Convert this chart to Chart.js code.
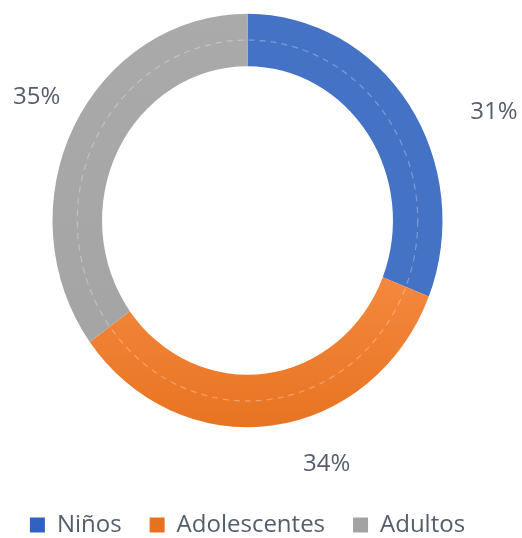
<!DOCTYPE html>
<html>
<head>
<meta charset="utf-8">
<script src="https://cdn.jsdelivr.net/npm/chart.js@4"></script>
<style>
  html, body { margin: 0; padding: 0; background: #ffffff; }
  #wrap { width: 522px; height: 538px; position: relative; }
</style>
</head>
<body>
<div id="wrap"><canvas id="c" width="522" height="538"></canvas></div>
<script>
// ---- data ----
const categories = ['Niños', 'Adolescentes', 'Adultos'];
const values = [31, 34, 35];

// ---- styles ----
const gradStops = [
  [[0.0, '#5b87d6'], [0.72, '#2f63bf']],
  [[0.62, '#f5893f'], [1.0, '#e6721f']],
  [[0.0, '#aaaaaa'], [1.0, '#a3a3a3']]
];
const solidColors = ['#4472C4', '#ED7D31', '#A5A5A5'];
const textColor = '#535d6c';
const yStretch = 1.06;
// label placement relative to slice middle: extra angle (deg), radius factor
const labelAngleShift = [11.6, -11.8, 1.9];
const labelRadiusFactor = [1.369, 1.248, 1.235];

function fillFor(context) {
  const chart = context.chart;
  const i = context.dataIndex !== undefined ? context.dataIndex : context.index;
  const area = chart.chartArea;
  const meta = chart.getDatasetMeta(0);
  if (!area || !meta || !meta.data[0] || !meta.data[0].outerRadius) return solidColors[i];
  const el = meta.data[0];
  const top = el.y - el.outerRadius * yStretch;
  const bot = el.y + el.outerRadius * yStretch;
  const g = chart.ctx.createLinearGradient(0, top, 0, bot);
  gradStops[i].forEach(s => g.addColorStop(s[0], s[1]));
  return g;
}

const ellipsePlugin = {
  id: 'ellipse',
  beforeDatasetsDraw(chart) {
    const el = chart.getDatasetMeta(0).data[0];
    const ctx = chart.ctx;
    ctx.save();
    ctx.translate(el.x, el.y);
    ctx.scale(1, yStretch);
    ctx.translate(-el.x, -el.y);
  },
  afterDatasetsDraw(chart) {
    const ctx = chart.ctx;
    const el = chart.getDatasetMeta(0).data[0];
    // faint dashed guide in middle of ring
    const r = (el.innerRadius + el.outerRadius) / 2;
    ctx.beginPath();
    ctx.arc(el.x, el.y, r, 0, Math.PI * 2);
    ctx.setLineDash([6, 5]);
    ctx.lineWidth = 1.2;
    ctx.strokeStyle = 'rgba(255,255,255,0.3)';
    ctx.stroke();
    ctx.setLineDash([]);
    ctx.restore();

    // percentage labels
    const data = chart.data.datasets[0].data;
    const total = data.reduce((a, b) => a + b, 0);
    ctx.save();
    ctx.font = '24px "Open Sans"';
    ctx.fillStyle = textColor;
    ctx.textAlign = 'center';
    ctx.textBaseline = 'middle';
    chart.getDatasetMeta(0).data.forEach((arc, i) => {
      const mid = (arc.startAngle + arc.endAngle) / 2 + labelAngleShift[i] * Math.PI / 180;
      const rr = arc.outerRadius * labelRadiusFactor[i];
      const px = arc.x + rr * Math.cos(mid);
      const py = arc.y + rr * Math.sin(mid) * yStretch;
      ctx.fillText(Math.round(data[i] / total * 100) + '%', px, py);
    });
    ctx.restore();
  }
};

new Chart(document.getElementById('c'), {
  type: 'doughnut',
  data: {
    labels: categories,
    datasets: [{
      data: values,
      backgroundColor: fillFor,
      borderWidth: 0,
      radius: 195,
      cutout: '74.6%'
    }]
  },
  options: {
    responsive: false,
    animation: false,
    devicePixelRatio: 1,
    layout: { padding: { top: 0, bottom: -9, left: 0, right: 27 } },
    plugins: {
      tooltip: { enabled: false },
      legend: {
        position: 'bottom',
        title: {
          display: true,
          text: '',
          font: { size: 12, lineHeight: 1 },
          padding: { top: 32, bottom: 0 }
        },
        labels: {
          boxWidth: 15,
          boxHeight: 15,
          padding: 28,
          color: textColor,
          font: { family: '"Open Sans"', size: 24 }
        }
      }
    }
  },
  plugins: [ellipsePlugin]
});
</script>
</body>
</html>
